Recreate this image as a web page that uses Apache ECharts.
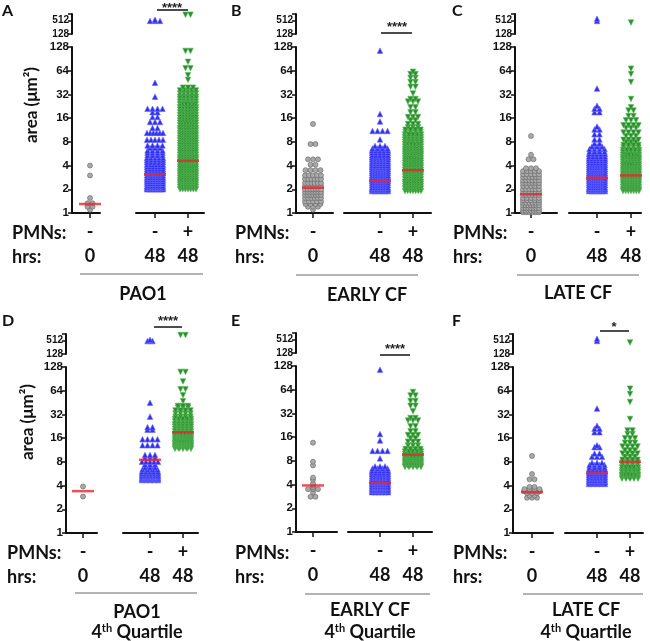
<!DOCTYPE html>
<html><head><meta charset="utf-8">
<script src="https://cdn.jsdelivr.net/npm/echarts@6/dist/echarts.min.js"></script>
<style>html,body{margin:0;padding:0;background:#fff}#c{width:650px;height:641px}</style>
</head><body><div id="c"></div><script>
// ---------------- DATA (area in µm², as [value, number of cells at that level]) ----------------
const groupLabels = ['-\n0', '-\n48', '+\n48'];           // PMNs / hrs
const rowHeaders = ['PMNs:', 'hrs:'];
const mainTicks = [1, 2, 4, 8, 16, 32, 64, 128];
const topTicks = [128, 512];

const A_0   = [[1.1,1],[1.2,2],[1.33,2],[1.55,1],[3.0,1],[4.0,1]];
const A_48  = [[2.0,7],[2.1,7],[2.2,7],[2.35,7],[2.5,7],[2.65,7],[2.8,7],[3.0,7],[3.2,7],[3.4,6],[3.6,6],[3.85,6],[4.1,6],[4.4,5],[4.7,5],[5.0,5],[5.4,4],[5.8,4],[6.2,4],[6.7,3],[7.2,4],[8.5,5],[10.4,6],[12,2],[14.3,3],[16.5,2],[19,2],[21,4],[30,1],[45,1],[500,3],[560,1]];
const A_48p = [[2.0,7],[2.15,7],[2.3,7],[2.45,7],[2.6,7],[2.8,7],[3.0,7],[3.2,7],[3.4,7],[3.65,7],[3.9,7],[4.2,7],[4.5,7],[4.8,7],[5.1,7],[5.5,7],[5.9,7],[6.3,7],[6.8,7],[7.3,7],[7.8,7],[8.4,7],[9.0,7],[9.7,7],[10.4,7],[11.2,7],[12,7],[13,7],[14,7],[15,6],[16.2,6],[17.5,6],[19,6],[20.5,6],[22,6],[24,6],[26,5],[28,5],[30,5],[33,5],[36,5],[39,3],[49,1],[56,1],[69,2],[83,1],[114,2],[950,2]];
const A_med = [1.3, 3.1, 4.6];

const B_0   = [[1.1,1],[1.2,3],[1.3,4],[1.4,5],[1.55,6],[1.7,7],[1.85,7],[2.0,7],[2.2,7],[2.4,6],[2.7,6],[3.0,5],[3.5,4],[4.1,2],[4.8,3],[7.5,2],[13.5,1]];
const B_48  = [[1.9,7],[2.0,7],[2.1,7],[2.25,7],[2.4,7],[2.55,7],[2.7,7],[2.85,7],[3.0,7],[3.2,7],[3.4,7],[3.6,7],[3.8,6],[4.0,6],[4.25,6],[4.5,6],[4.8,6],[5.1,6],[5.4,5],[5.8,5],[6.2,5],[6.6,4],[7.1,3],[8.6,1],[11,4],[14.5,1],[18,1],[115,1]];
const B_48p = [[1.9,7],[2.05,7],[2.2,7],[2.35,7],[2.5,7],[2.7,7],[2.9,7],[3.1,7],[3.3,7],[3.55,7],[3.8,7],[4.05,7],[4.35,7],[4.65,7],[5.0,7],[5.35,6],[5.7,6],[6.1,6],[6.5,6],[7.0,6],[7.5,6],[8.0,5],[8.6,5],[9.2,5],[9.9,5],[10.6,4],[11.4,4],[12.3,3],[13.5,3],[15,2],[16.5,3],[19,2],[22,2],[26,3],[28,2],[33,1],[40,2],[46,2],[52,2],[58,2],[62,1]];
const B_med = [2.1, 2.55, 3.5];

const C_0   = [[1.02,6],[1.07,7],[1.15,7],[1.25,7],[1.35,6],[1.45,5],[1.55,5],[1.7,6],[1.85,6],[2.0,6],[2.2,5],[2.4,6],[2.6,6],[2.85,6],[3.1,5],[3.4,5],[3.7,3],[4.8,2],[5.5,1],[9.5,1]];
const C_48  = [[1.9,8],[2.0,8],[2.1,8],[2.25,8],[2.4,8],[2.55,8],[2.7,8],[2.85,8],[3.0,8],[3.2,8],[3.4,8],[3.6,7],[3.8,7],[4.05,7],[4.3,6],[4.6,6],[4.9,6],[5.2,5],[5.6,5],[6.0,4],[6.5,4],[7.0,3],[7.6,2],[8.6,2],[10,2],[11.5,2],[12.5,1],[19,2],[21,2],[23,1],[38,1],[500,1],[620,1]];
const C_48p = [[1.9,7],[2.0,7],[2.15,7],[2.3,7],[2.45,7],[2.6,7],[2.75,7],[2.9,7],[3.1,7],[3.3,7],[3.5,7],[3.7,7],[3.95,7],[4.2,7],[4.5,6],[4.8,6],[5.1,6],[5.5,6],[5.9,5],[6.3,5],[6.8,4],[7.3,4],[7.9,3],[8.5,4],[9.5,3],[10.5,4],[12,3],[13,4],[15,3],[17,2],[20,2],[22,1],[28,1],[46,1],[58,1],[68,1],[420,1]];
const C_med = [1.73, 2.8, 3.0];

const D_0   = [[2.9,1],[3.9,1]];
const D_48  = [[4.7,5],[4.85,7],[5.0,7],[5.2,7],[5.4,6],[5.7,6],[6.0,5],[6.4,4],[6.8,3],[7.4,3],[8.0,5],[9.0,3],[9.8,3],[13,4],[15.5,4],[20.5,2],[22,2],[30,1],[45,1],[490,2],[560,1]];
const D_48p = [[11.7,5],[12.2,7],[12.8,7],[13.4,7],[14,7],[14.7,7],[15.5,6],[16.3,6],[17.2,6],[18.2,6],[19.5,5],[21,5],[22.5,5],[24,5],[26,5],[28,5],[30,4],[33,4],[36,4],[39,3],[41,3],[47,1],[56,1],[67,2],[84,1],[111,2],[920,2]];
const D_med = [3.4, 8.5, 19];

const E_0   = [[2.8,2],[3.2,1],[3.5,3],[3.7,1],[3.9,1],[4.1,1],[4.6,1],[4.9,1],[7.0,1],[7.8,1],[13.6,1]];
const E_48  = [[3.2,6],[3.35,7],[3.5,7],[3.65,7],[3.8,7],[4.0,7],[4.2,7],[4.4,7],[4.6,6],[4.85,6],[5.1,6],[5.4,6],[5.7,5],[6.0,5],[6.4,4],[6.8,3],[8.6,1],[10.7,4],[14.5,1],[17.5,1],[115,1]];
const E_48p = [[6.7,5],[7.0,7],[7.4,7],[7.8,6],[8.2,6],[8.7,6],[9.2,6],[9.8,5],[10.5,5],[11.3,4],[12.5,3],[14,3],[15.5,2],[17,3],[19,2],[22,2],[26,3],[28,2],[34,1],[40,2],[46,2],[54,2],[60,1]];
const E_med = [3.9, 4.2, 9.6];

const F_0   = [[2.8,3],[3.0,2],[3.2,3],[3.4,5],[3.6,4],[3.85,2],[4.8,2],[5.6,1],[9.5,1]];
const F_48  = [[4.2,5],[4.4,7],[4.6,7],[4.85,7],[5.1,6],[5.4,6],[5.7,6],[6.0,5],[6.4,5],[6.8,4],[7.3,4],[7.8,3],[9.3,3],[10.2,2],[12.3,2],[13,1],[19,2],[21,2],[23,1],[38,1],[500,1],[620,1]];
const F_48p = [[4.9,5],[5.2,6],[5.5,6],[5.9,5],[6.3,5],[6.8,5],[7.3,4],[7.9,4],[8.5,4],[9.3,3],[10.2,4],[11.2,3],[12.5,4],[14,3],[16,3],[18,2],[20,2],[28,1],[46,1],[58,1],[68,1],[420,1]];
const F_med = [3.3, 5.8, 8.0];

const panelLetters = ['A','B','C','D','E','F'];
const panelTitles = [['PAO1'],['EARLY CF'],['LATE CF'],['PAO1','4{s|th} Quartile'],['EARLY CF','4{s|th} Quartile'],['LATE CF','4{s|th} Quartile']];
const sigLabels = ['****','****','','****','****','*'];
const yTitle = 'area (μm²)';

const PANEL_DATA = [
  [A_0, A_48, A_48p, A_med], [B_0, B_48, B_48p, B_med], [C_0, C_48, C_48p, C_med],
  [D_0, D_48, D_48p, D_med], [E_0, E_48, E_48p, E_med], [F_0, F_48, F_48p, F_med]
];

// ---------------- LAYOUT (pixels) ----------------
const L = [
 {yax:72, lEnd:100, rStart:136, rEnd:204, c:[90,155,188], mTop:47, mBot:213, tTop:14, tBot:34, letter:[2,3], rowX:12, rowY:[233,257], brk:[80,203,274], titleX:143, titleY:[294], sig:[157,188,10,172,8], yt:[32,105]},
 {yax:296, lEnd:333, rStart:344, rEnd:431, c:[313,380,413], mTop:47, mBot:213, tTop:14, tBot:34, letter:[231,3], rowX:235, rowY:[233,257], brk:[296,418,275], titleX:367, titleY:[295], sig:[381,412,33,397,27]},
 {yax:515, lEnd:557, rStart:569, rEnd:641, c:[531,597,631], mTop:47, mBot:213, tTop:14, tBot:34, letter:[452,3], rowX:453, rowY:[233,257], brk:[517,639,275], titleX:578, titleY:[293]},
 {yax:66, lEnd:97, rStart:123, rEnd:198, c:[83,150,183], mTop:367, mBot:533, tTop:334, tBot:354, letter:[2,313], rowX:7, rowY:[553,577], brk:[75,197,593], titleX:137, titleY:[612,632], sig:[154,182,327,168,321], yt:[28,422]},
 {yax:296, lEnd:337, rStart:348, rEnd:432, c:[313,380,413], mTop:366, mBot:532, tTop:333, tBot:353, letter:[231,313], rowX:235, rowY:[553,577], brk:[305,430,594], titleX:370, titleY:[610,632], sig:[380,410,355,395,349]},
 {yax:513, lEnd:553, rStart:565, rEnd:643, c:[532,597,630], mTop:367, mBot:533, tTop:334, tBot:354, letter:[452,313], rowX:453, rowY:[553,577], brk:[523,643,594], titleX:586, titleY:[610,632], sig:[600,629,331,614,327]}
];

const STY = [
  {symbol:'circle', size:5, color:'#a9a9a9', border:'#626262', rot:0},
  {symbol:'triangle', size:5.5, color:'#2f2ff0', border:'#6a6aff', rot:0},
  {symbol:'triangle', size:5.5, color:'#27902a', border:'#5cb85c', rot:180}
];
const BIG = 'Lato, "Open Sans", sans-serif';
const TICKF = '"Liberation Sans Narrow", "Liberation Sans", Arial, sans-serif';

// beeswarm-like layout: spreads the cells of each level horizontally around the group centre
function swarm(levels, cx) {
  const pts = [];
  levels.forEach(([v, n]) => {
    const sp = n > 1 ? Math.min(5, 16 / (n - 1)) : 0;
    for (let i = 0; i < n; i++) pts.push([cx + (i - (n - 1) / 2) * sp, v]);
  });
  return pts;
}

const grids = [], xAxes = [], yAxes = [], series = [], graphics = [];
const axisBlack = {show:true, lineStyle:{color:'#111', width:2}};

L.forEach((lay, p) => {
  const [g0, g1, g2, med] = PANEL_DATA[p];
  const groups = [g0, g1, g2];
  const rel = lay.c.map(c => c - lay.yax);
  const gi = p * 3;
  grids.push({left:lay.yax, top:lay.mTop, width:lay.lEnd - lay.yax, height:lay.mBot - lay.mTop, containLabel:false, outerBoundsMode:'none'});
  grids.push({left:lay.rStart, top:lay.mTop, width:lay.rEnd - lay.rStart, height:lay.mBot - lay.mTop, containLabel:false, outerBoundsMode:'none'});
  grids.push({left:lay.yax, top:lay.tTop, width:lay.rEnd - lay.yax, height:lay.tBot - lay.tTop, containLabel:false, outerBoundsMode:'none'});
  const xLab = (vals, labs) => ({
    customValues: vals, margin: 7, color:'#111', fontFamily: BIG, fontWeight:'bold', fontSize:18, lineHeight:24,
    formatter: v => { let k = 0, best = 1e9; vals.forEach((x, i) => { if (Math.abs(x - v) < best) { best = Math.abs(x - v); k = i; } }); return labs[k]; }
  });
  xAxes.push({type:'value', gridIndex:gi, min:0, max:lay.lEnd - lay.yax, axisLine:Object.assign({onZero:false}, axisBlack),
    axisTick:{show:true, customValues:[rel[0]], length:5, lineStyle:{color:'#111', width:1.5}},
    axisLabel:xLab([rel[0]], [groupLabels[0]]), splitLine:{show:false}});
  xAxes.push({type:'value', gridIndex:gi + 1, min:lay.rStart - lay.yax, max:lay.rEnd - lay.yax, axisLine:Object.assign({onZero:false}, axisBlack),
    axisTick:{show:true, customValues:[rel[1], rel[2]], length:5, lineStyle:{color:'#111', width:1.5}},
    axisLabel:xLab([rel[1], rel[2]], [groupLabels[1], groupLabels[2]]), splitLine:{show:false}});
  xAxes.push({type:'value', gridIndex:gi + 2, min:0, max:lay.rEnd - lay.yax, show:false});
  yAxes.push({type:'log', logBase:2, gridIndex:gi, min:mainTicks[0], max:mainTicks[mainTicks.length - 1], axisLine:axisBlack,
    axisTick:{show:true, length:4, lineStyle:{color:'#111', width:1.5}},
    axisLabel:{margin:3, color:'#111', fontFamily:TICKF, fontWeight:'bold', fontSize:11.5}, splitLine:{show:false}});
  yAxes.push({type:'log', logBase:2, gridIndex:gi + 1, min:mainTicks[0], max:mainTicks[mainTicks.length - 1], show:false});
  yAxes.push({type:'log', logBase:8, gridIndex:gi + 2, min:topTicks[0], max:1024, axisLine:axisBlack,
    axisTick:{show:true, length:4, lineStyle:{color:'#111', width:1.5}},
    axisLabel:{margin:3, color:'#111', fontFamily:TICKF, fontWeight:'bold', fontSize:10,
      formatter: v => topTicks.some(t => Math.abs(t - v) < 1) ? String(Math.round(v)) : ''}, splitLine:{show:false}});

  groups.forEach((lev, g) => {
    const pts = swarm(lev, rel[g]);
    const s = STY[g];
    const base = {type:'scatter', symbol:s.symbol, symbolSize:s.size, symbolRotate:s.rot, silent:true, clip:false,
      itemStyle:{color:s.color, borderColor:s.border, borderWidth:0.6, opacity:1}};
    const ax = g === 0 ? gi : gi + 1;
    series.push(Object.assign({}, base, {xAxisIndex:ax, yAxisIndex:ax, data:pts.filter(d => d[1] <= 128)}));
    const top = pts.filter(d => d[1] > 128);
    if (top.length) series.push(Object.assign({}, base, {xAxisIndex:gi + 2, yAxisIndex:gi + 2, data:top}));
    series.push({type:'scatter', xAxisIndex:ax, yAxisIndex:ax, symbol:'rect', symbolSize:[22, 2.5], z:5, silent:true,
      itemStyle:{color:'#e8262e'}, data:[[rel[g], med[g]]]});
  });

  // text & annotation elements
  graphics.push({type:'text', x:lay.letter[0], y:lay.letter[1], style:{text:panelLetters[p], font:'bold 16px ' + BIG, fill:'#111', textVerticalAlign:'top', verticalAlign:'top'}});
  rowHeaders.forEach((h, i) => graphics.push({type:'text', x:lay.rowX, y:lay.rowY[i], style:{text:h, font:'bold 18px ' + BIG, fill:'#111', textVerticalAlign:'middle', verticalAlign:'middle'}}));
  graphics.push({type:'line', shape:{x1:lay.brk[0], y1:lay.brk[2], x2:lay.brk[1], y2:lay.brk[2]}, style:{stroke:'#9a9a9a', lineWidth:1.5}});
  panelTitles[p].forEach((t, i) => graphics.push({type:'text', x:lay.titleX, y:lay.titleY[i],
    style:{text:t, font:'bold 18px ' + BIG, fill:'#111', textAlign:'center', align:'center', textVerticalAlign:'middle', verticalAlign:'middle',
      rich:{s:{fontSize:11, fontWeight:'bold', fontFamily:BIG, verticalAlign:'top', padding:[0,0,8,0]}}}}));
  if (lay.sig && sigLabels[p]) {
    graphics.push({type:'line', shape:{x1:lay.sig[0], y1:lay.sig[2], x2:lay.sig[1], y2:lay.sig[2]}, style:{stroke:'#111', lineWidth:1.5}});
    graphics.push({type:'text', x:lay.sig[3], y:lay.sig[4], style:{text:sigLabels[p], font:'bold 13px "Liberation Sans", Arial', fill:'#222', textAlign:'center', align:'center', textVerticalAlign:'middle', verticalAlign:'middle'}});
  }
  if (lay.yt) graphics.push({type:'text', x:lay.yt[0], y:lay.yt[1], rotation:Math.PI / 2,
    style:{text:yTitle, font:'bold 17px ' + BIG, fill:'#111', textAlign:'center', align:'center', textVerticalAlign:'middle', verticalAlign:'middle'}});
});

const chart = echarts.init(document.getElementById('c'), null, {renderer:'canvas'});
chart.setOption({animation:false, backgroundColor:'#fff', grid:grids, xAxis:xAxes, yAxis:yAxes, series:series, graphic:graphics});
</script></body></html>
